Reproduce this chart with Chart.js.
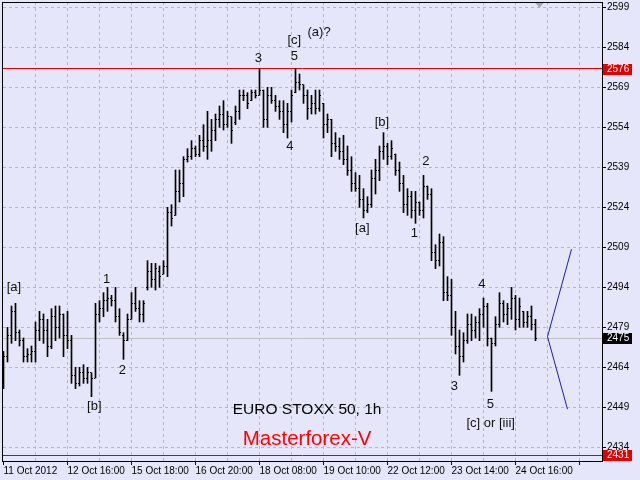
<!DOCTYPE html>
<html>
<head>
<meta charset="utf-8">
<script src="https://cdn.jsdelivr.net/npm/chart.js@4.4.0/dist/chart.umd.min.js"></script>
<style>
  html, body { margin: 0; padding: 0; background: #e6e6fa; }
  #wrap { width: 640px; height: 480px; }
</style>
</head>
<body>
<div id="wrap"><canvas id="chart" width="640" height="480"></canvas></div>
<script>
'use strict';

// one time label every 16 hourly bars
var timeLabels = ['11 Oct 2012', '12 Oct 16:00', '15 Oct 18:00', '16 Oct 20:00',
  '18 Oct 08:00', '19 Oct 10:00', '22 Oct 12:00', '23 Oct 14:00', '24 Oct 16:00'];
var priceTicks = [2434, 2449, 2464, 2479, 2494, 2509, 2524, 2539, 2554, 2569, 2584, 2599];

var highs = [2470, 2479, 2487, 2488, 2478, 2475, 2471, 2472, 2481, 2485,
  2484, 2482, 2486, 2487, 2487, 2484, 2485, 2476, 2464, 2464,
  2465, 2464, 2462, 2488, 2489, 2492, 2494, 2491, 2494, 2486,
  2477, 2484, 2492, 2494, 2489, 2489, 2504, 2503, 2503, 2502,
  2504, 2524, 2525, 2538, 2538, 2543, 2546, 2549, 2547, 2551,
  2555, 2560, 2557, 2559, 2562, 2564, 2560, 2558, 2562, 2568,
  2568, 2567, 2568, 2568, 2576, 2568, 2569, 2569, 2566, 2564,
  2564, 2563, 2568, 2576, 2574, 2570, 2568, 2566, 2568, 2568,
  2563, 2559, 2557, 2552, 2550, 2551, 2547, 2543, 2537, 2536,
  2531, 2528, 2538, 2542, 2547, 2552, 2548, 2549, 2544, 2541,
  2536, 2531, 2530, 2530, 2526, 2536, 2532, 2531, 2510, 2514,
  2513, 2498, 2497, 2485, 2478, 2477, 2484, 2484, 2483, 2486,
  2490, 2488, 2475, 2483, 2492, 2489, 2488, 2494, 2491, 2490,
  2485, 2485, 2487, 2482];
var lows = [2456, 2466, 2473, 2474, 2472, 2466, 2466, 2466, 2466, 2474,
  2473, 2468, 2471, 2474, 2475, 2468, 2471, 2458, 2456, 2457,
  2458, 2458, 2453, 2460, 2481, 2483, 2485, 2487, 2481, 2476,
  2467, 2474, 2482, 2485, 2481, 2481, 2493, 2494, 2493, 2494,
  2499, 2498, 2517, 2521, 2526, 2528, 2541, 2542, 2543, 2543,
  2545, 2542, 2545, 2549, 2554, 2553, 2554, 2548, 2555, 2557,
  2564, 2561, 2564, 2565, 2566, 2554, 2554, 2563, 2560, 2557,
  2552, 2550, 2556, 2567, 2568, 2563, 2557, 2559, 2559, 2560,
  2550, 2552, 2543, 2545, 2542, 2540, 2536, 2530, 2530, 2524,
  2520, 2522, 2524, 2529, 2534, 2542, 2540, 2542, 2536, 2530,
  2522, 2521, 2520, 2518, 2521, 2520, 2527, 2504, 2501, 2502,
  2489, 2489, 2476, 2469, 2461, 2466, 2473, 2474, 2475, 2474,
  2479, 2472, 2455, 2472, 2479, 2481, 2480, 2482, 2478, 2479,
  2479, 2479, 2478, 2474];
var opens = [2458, 2468, 2476, 2485, 2477, 2474, 2468, 2469, 2470, 2478,
  2482, 2478, 2472, 2483, 2479, 2484, 2476, 2474, 2461, 2458,
  2462, 2460, 2462, 2460, 2484, 2486, 2489, 2490, 2489, 2483,
  2476, 2474, 2482, 2488, 2486, 2484, 2494, 2500, 2497, 2500,
  2499, 2502, 2522, 2521, 2530, 2533, 2542, 2543, 2546, 2544,
  2549, 2547, 2549, 2553, 2557, 2559, 2555, 2558, 2556, 2560,
  2566, 2566, 2564, 2567, 2566, 2568, 2557, 2566, 2564, 2562,
  2560, 2555, 2560, 2567, 2571, 2570, 2566, 2561, 2563, 2561,
  2563, 2555, 2557, 2548, 2547, 2545, 2542, 2538, 2533, 2531,
  2527, 2523, 2525, 2535, 2538, 2545, 2547, 2543, 2544, 2538,
  2533, 2525, 2528, 2523, 2526, 2523, 2532, 2529, 2507, 2504,
  2511, 2492, 2491, 2479, 2472, 2468, 2474, 2480, 2478, 2481,
  2484, 2487, 2475, 2473, 2480, 2488, 2484, 2486, 2490, 2482,
  2485, 2481, 2483, 2480];
var closes = [2468, 2476, 2485, 2477, 2474, 2468, 2469, 2470, 2478, 2482,
  2478, 2472, 2483, 2479, 2484, 2476, 2474, 2461, 2458, 2462,
  2460, 2462, 2460, 2484, 2486, 2489, 2490, 2489, 2483, 2477,
  2474, 2482, 2488, 2486, 2484, 2488, 2500, 2497, 2501, 2498,
  2502, 2522, 2520, 2530, 2533, 2542, 2543, 2546, 2544, 2549,
  2547, 2549, 2553, 2557, 2559, 2555, 2558, 2553, 2560, 2566,
  2566, 2563, 2567, 2566, 2568, 2557, 2566, 2564, 2562, 2560,
  2555, 2560, 2566, 2571, 2570, 2566, 2561, 2563, 2561, 2566,
  2555, 2557, 2548, 2547, 2545, 2542, 2538, 2533, 2531, 2527,
  2523, 2525, 2535, 2538, 2545, 2547, 2543, 2546, 2538, 2533,
  2525, 2528, 2523, 2526, 2523, 2532, 2529, 2507, 2504, 2511,
  2492, 2491, 2479, 2472, 2468, 2474, 2480, 2478, 2481, 2484,
  2487, 2475, 2473, 2480, 2488, 2484, 2486, 2490, 2482, 2487,
  2481, 2483, 2480, 2475];

// forecast lines: start, upper target, lower target
var forecastBars = [136, 142, 141];
var forecastPrices = [2475.5, 2508.3, 2448.3];

var redLevels = [2576, 2431];
var bidPrice = 2475;

// wave marks: text, bar, price
var waveLabels = [
  ['[a]', 2.6, 2493.9], ['[b]', 22.7, 2449.5], ['1', 25.8, 2497], ['2', 29.7, 2462.7],
  ['3', 63.7, 2579.9], ['[c]', 72.7, 2586.7], ['5', 72.7, 2580.5], ['(a)?', 78.9, 2589.6],
  ['4', 71.6, 2547], ['[b]', 94.6, 2555.9], ['[a]', 89.7, 2516.1], ['2', 105.6, 2541.1],
  ['1', 102.7, 2514.2], ['4', 119.6, 2495.1], ['3', 112.7, 2456.7], ['5', 121.7, 2450.2],
  ['[c] or [iii]', 121.8, 2442.9]
];

Chart.defaults.font.family = 'Liberation Sans';

var bars = [];
for (var i = 0; i < highs.length; i++) {
  bars.push({x: i, y: [lows[i], highs[i]]});
}

var ohlcTicks = {
  id: 'ohlcTicks',
  afterDatasetsDraw: function(chart) {
    var xs = chart.scales.x, ys = chart.scales.y, c = chart.ctx;
    c.save();
    c.fillStyle = '#000';
    for (var k = 0; k < opens.length; k++) {
      var px = Math.floor(xs.getPixelForValue(k));
      c.fillRect(px - 1, Math.floor(ys.getPixelForValue(opens[k])), 1, 1);
      c.fillRect(px + 1, Math.floor(ys.getPixelForValue(closes[k])), 1, 1);
    }
    c.restore();
  }
};

var levels = {
  id: 'levels',
  beforeDatasetsDraw: function(chart) {
    var a = chart.chartArea, ys = chart.scales.y, c = chart.ctx;
    c.save();
    c.lineWidth = 1;
    c.strokeStyle = '#c0c0c0';
    var yb = Math.floor(ys.getPixelForValue(bidPrice)) + 0.5;
    c.beginPath(); c.moveTo(a.left, yb); c.lineTo(a.right, yb); c.stroke();
    c.strokeStyle = '#e00000';
    redLevels.forEach(function(v) {
      var y = Math.floor(ys.getPixelForValue(v)) + 0.5;
      c.beginPath(); c.moveTo(a.left, y); c.lineTo(a.right, y); c.stroke();
    });
    c.restore();
  },
  afterDraw: function(chart) {
    var a = chart.chartArea, xs = chart.scales.x, ys = chart.scales.y, c = chart.ctx;
    c.save();
    // frame
    c.strokeStyle = '#000';
    c.lineWidth = 1;
    c.strokeRect(a.left - 0.5, a.top + 0.5, a.right - a.left + 1, a.bottom - a.top);

    // shift marker
    var sx = xs.getPixelForValue(134);
    c.fillStyle = '#a8a8b0';
    c.beginPath();
    c.moveTo(sx - 4, a.top + 1); c.lineTo(sx + 4, a.top + 1); c.lineTo(sx, a.top + 6);
    c.closePath(); c.fill();

    // price boxes
    c.font = '10px "Liberation Sans"';
    c.textBaseline = 'middle';
    c.textAlign = 'left';
    var boxes = [[redLevels[0], '#e00000'], [bidPrice, '#000'], [redLevels[1], '#e00000']];
    boxes.forEach(function(b) {
      var y = Math.round(ys.getPixelForValue(b[0]));
      c.fillStyle = b[1];
      c.fillRect(a.right + 1, y - 5, 29, 11);
      c.fillStyle = '#fff';
      c.fillText(String(b[0]), a.right + 5, y + 0.5);
    });

    // wave labels
    c.textAlign = 'center';
    c.fillStyle = '#111';
    c.font = '13px "Liberation Sans"';
    waveLabels.forEach(function(w) {
      c.fillText(w[0], xs.getPixelForValue(w[1]), ys.getPixelForValue(w[2]));
    });

    c.font = '15.5px "Liberation Sans"';
    c.fillStyle = '#000';
    c.fillText('EURO STOXX 50, 1h', xs.getPixelForValue(75.9), ys.getPixelForValue(2448));
    c.font = '20.5px "Liberation Sans"';
    c.fillStyle = '#ff0000';
    c.fillText('Masterforex-V', xs.getPixelForValue(75.9), ys.getPixelForValue(2437.1));
    c.restore();
  }
};

var ctx = document.getElementById('chart');
var chart = new Chart(ctx, {
  type: 'bar',
  data: {
    datasets: [{
      type: 'bar',
      data: bars,
      backgroundColor: '#000',
      borderWidth: 0,
      barThickness: 1,
      grouped: false
    }, {
      type: 'line',
      data: [{x: forecastBars[0], y: forecastPrices[0]}, {x: forecastBars[1], y: forecastPrices[1]}],
      borderColor: '#1c1ca8',
      borderWidth: 1,
      pointRadius: 0,
      tension: 0
    }, {
      type: 'line',
      data: [{x: forecastBars[0], y: forecastPrices[0]}, {x: forecastBars[2], y: forecastPrices[2]}],
      borderColor: '#1c1ca8',
      borderWidth: 1,
      pointRadius: 0,
      tension: 0
    }]
  },
  options: {
    responsive: false,
    animation: false,
    layout: {padding: {left: 3, top: 2, right: 0, bottom: 0}},
    plugins: {legend: {display: false}, tooltip: {enabled: false}},
    scales: {
      x: {
        type: 'linear',
        offset: false,
        min: -0.125,
        max: 149.625,
        afterBuildTicks: function(s) {
          var t = [];
          for (var v = 0; v <= 144; v += 8) t.push({value: v});
          s.ticks = t;
        },
        afterFit: function(s) {
          s.height = 19;
          s.paddingLeft = 0;
          s.paddingRight = 0;
        },
        grid: {
          offset: false,
          color: function(c) { return c.tick && c.tick.value === 0 ? 'rgba(0,0,0,0)' : '#b8b8b8'; },
          tickColor: function(c) { return c.tick && c.tick.value % 16 === 0 ? '#000' : 'rgba(0,0,0,0)'; },
          tickLength: 4,
          lineWidth: 1
        },
        border: {display: false, dash: [3, 3]},
        ticks: {
          autoSkip: false,
          maxRotation: 0,
          minRotation: 0,
          align: 'start',
          padding: 0,
          color: '#000',
          font: {size: 10},
          callback: function(v) {
            return v % 16 === 0 && timeLabels[v / 16] ? timeLabels[v / 16] : '';
          }
        }
      },
      y: {
        type: 'linear',
        position: 'right',
        min: 2428.88,
        max: 2601,
        afterBuildTicks: function(s) {
          s.ticks = priceTicks.map(function(v) { return {value: v}; });
        },
        afterFit: function(s) {
          s.width = 38;
          s.paddingTop = 0;
          s.paddingBottom = 0;
        },
        grid: {color: '#b8b8b8', tickColor: '#000', tickLength: 4, lineWidth: 1},
        border: {display: false, dash: [3, 3]},
        ticks: {
          padding: 1,
          color: '#000',
          font: {size: 10},
          callback: function(v) { return String(v); }
        }
      }
    }
  },
  plugins: [levels, ohlcTicks]
});
</script>
</body>
</html>
